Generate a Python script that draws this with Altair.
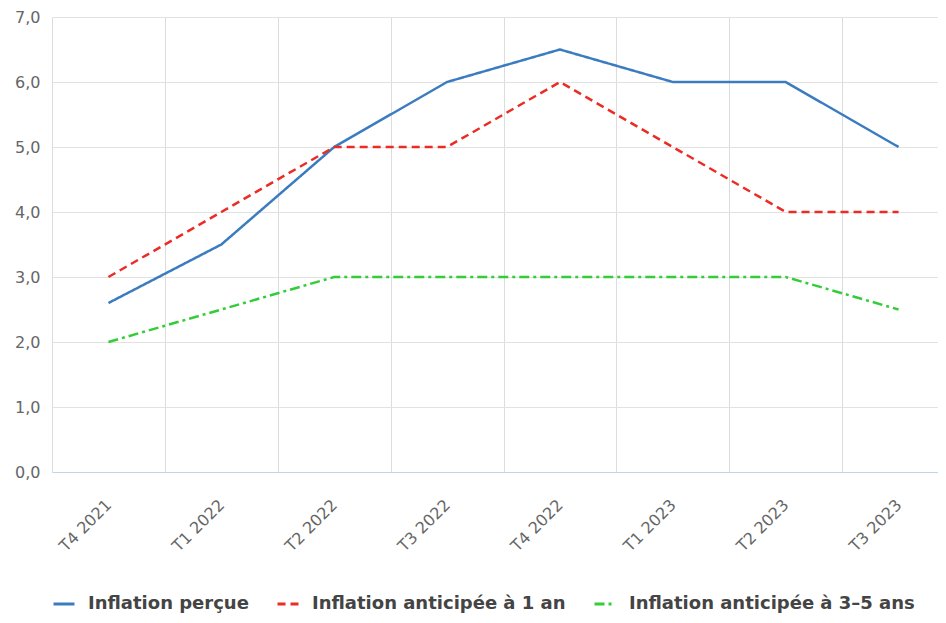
import altair as alt
import pandas as pd

trimestres = ["T4 2021", "T1 2022", "T2 2022", "T3 2022", "T4 2022", "T1 2023", "T2 2023", "T3 2023"]
series = ["Inflation perçue", "Inflation anticipée à 1 an", "Inflation anticipée à 3–5 ans"]
percue = [2.6, 3.5, 5.0, 6.0, 6.5, 6.0, 6.0, 5.0]
anticipee_1an = [3.0, 4.0, 5.0, 5.0, 6.0, 5.0, 4.0, 4.0]
anticipee_3_5 = [2.0, 2.5, 3.0, 3.0, 3.0, 3.0, 3.0, 2.5]
colors = ["#3b7cc0", "#ec2b25", "#35cc3a"]
dashes = [[1, 0], [8, 5], [10, 4, 3, 4]]

rows = []
for name, vals in zip(series, [percue, anticipee_1an, anticipee_3_5]):
    for t, v in zip(trimestres, vals):
        rows.append({"trimestre": t, "serie": name, "valeur": v})
df = pd.DataFrame(rows)

W = 886
H = 455
X_RANGE = 903  # the band scale runs slightly past the visible right edge, as in the original

chart = (
    alt.Chart(df)
    .mark_line(strokeWidth=2.5)
    .encode(
        x=alt.X(
            "trimestre:N",
            sort=trimestres,
            scale=alt.Scale(type="band", paddingInner=0, paddingOuter=0, range=[0, X_RANGE]),
            axis=alt.Axis(
                title=None,
                grid=True,
                tickBand="extent",
                labelAngle=-45,
                labelAlign="right",
                labelBaseline="middle",
                labelPadding=30,
                ticks=False,
                domainColor="#c5d3e6",
                gridColor="#dcdcdc",
                labelColor="#666666",
                labelFontSize=16,
                labelFont="DejaVu Sans",
            ),
        ),
        y=alt.Y(
            "valeur:Q",
            scale=alt.Scale(domain=[0, 7], nice=False),
            axis=alt.Axis(
                title=None,
                values=[0, 1, 2, 3, 4, 5, 6, 7],
                format=".1f",
                labelExpr="replace(datum.label, '.', ',')",
                domain=False,
                ticks=False,
                labelPadding=12,
                gridColor="#e2e2e2",
                labelColor="#666666",
                labelFontSize=16,
                labelFont="DejaVu Sans",
            ),
        ),
        color=alt.Color(
            "serie:N",
            sort=series,
            scale=alt.Scale(domain=series, range=colors),
            legend=alt.Legend(
                title=None,
                orient="bottom",
                direction="horizontal",
                symbolType="stroke",
                symbolSize=440,
                symbolStrokeWidth=3,
                labelFont="DejaVu Sans",
                labelFontSize=18,
                labelFontWeight="bold",
                labelColor="#444444",
                labelLimit=0,
                labelOffset=12,
                columnPadding=22,
                offset=37,
            ),
        ),
        strokeDash=alt.StrokeDash(
            "serie:N",
            sort=series,
            scale=alt.Scale(domain=series, range=dashes),
            legend=None,
        ),
    )
    .properties(
        width=W,
        height=H,
        autosize=alt.AutoSizeParams(type="none"),
        padding={"top": 9, "left": 44, "right": 0, "bottom": 143},
    )
    .configure_view(stroke=None)
)

chart.save("out.html", embed_options={"renderer": "svg", "actions": False})
